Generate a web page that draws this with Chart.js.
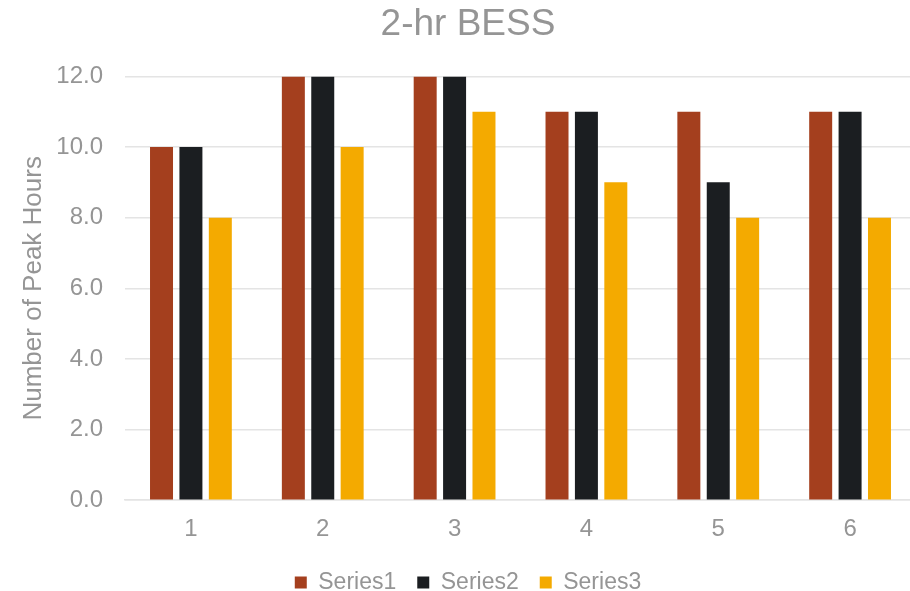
<!DOCTYPE html>
<html>
<head>
<meta charset="utf-8">
<script src="https://cdn.jsdelivr.net/npm/chart.js@4/dist/chart.umd.min.js"></script>
<style>
  html, body { margin: 0; padding: 0; background: #ffffff; overflow: hidden; }
  #wrap { width: 910px; height: 591px; overflow: hidden; position: relative; }
  canvas { display: block; }
</style>
</head>
<body>
<div id="wrap"><canvas id="chart" width="936" height="591"></canvas></div>
<script>
// Peak hours covered by a 2-hour battery, per case
const categories = ['1', '2', '3', '4', '5', '6'];
const series1 = [10, 12, 12, 11, 11, 11];
const series2 = [10, 12, 12, 11, 9, 11];
const series3 = [8, 10, 11, 9, 8, 8];
const seriesNames = ['Series1', 'Series2', 'Series3'];
const seriesColors = ['#A43F1E', '#1B1E21', '#F4AA00'];
const yTickStep = 2;
const yMax = 12;

const textGray = '#959595';
const gridGray = '#E4E4E4';
const fontFamily = '"Liberation Sans", Arial, Helvetica, sans-serif';

const data = {
  labels: categories,
  datasets: [series1, series2, series3].map((vals, i) => ({
    label: seriesNames[i],
    data: vals,
    backgroundColor: seriesColors[i],
    borderWidth: 0,
    categoryPercentage: 0.669,
    barPercentage: 0.782
  }))
};

new Chart(document.getElementById('chart'), {
  type: 'bar',
  data: data,
  options: {
    responsive: false,
    animation: false,
    devicePixelRatio: 1,
    layout: { padding: { left: 0, right: 0, top: 0, bottom: -13 } },
    plugins: {
      title: {
        display: true,
        text: '2-hr BESS',
        color: textGray,
        font: { family: fontFamily, size: 37, weight: 'normal' },
        padding: { top: 3, bottom: 29 }
      },
      legend: {
        position: 'bottom',
        labels: {
          color: textGray,
          font: { family: fontFamily, size: 23 },
          boxWidth: 12,
          boxHeight: 12,
          padding: 21
        }
      },
      tooltip: { enabled: false }
    },
    scales: {
      x: {
        grid: { display: false, drawTicks: false },
        border: { display: true, color: gridGray, width: 1.5 },
        ticks: {
          color: textGray,
          font: { family: fontFamily, size: 24 },
          padding: 15
        },
        afterFit: scale => { scale.height -= 9; }
      },
      y: {
        min: 0,
        max: yMax,
        grid: { color: gridGray, lineWidth: 1.5, drawTicks: false },
        border: { display: false },
        ticks: {
          stepSize: yTickStep,
          color: textGray,
          font: { family: fontFamily, size: 24 },
          padding: 22,
          callback: v => Number(v).toFixed(1)
        },
        title: {
          display: true,
          text: 'Number of Peak Hours',
          color: textGray,
          font: { family: fontFamily, size: 26 },
          padding: { top: 18, bottom: 8 }
        },
        afterFit: scale => { scale.width = 125; }
      },
      // empty right-hand margin axis (draws nothing, only reserves space)
      yRight: {
        type: 'linear',
        position: 'right',
        display: true,
        grid: { display: false, drawTicks: false },
        border: { display: false },
        ticks: { display: false },
        afterFit: scale => { scale.width = 20; }
      }
    }
  }
});
</script>
</body>
</html>
